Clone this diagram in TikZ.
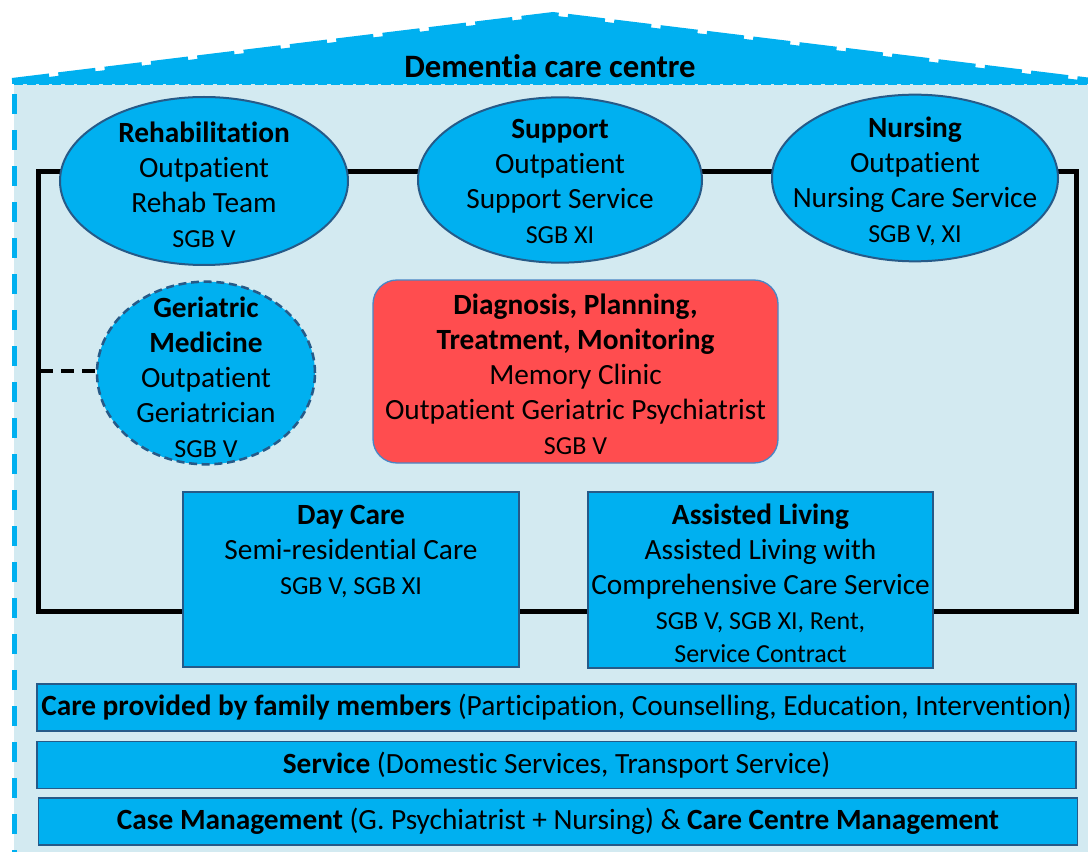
\documentclass[tikz,border=0pt]{standalone}
\usepackage{fontspec}
\setmainfont{Carlito}[Ligatures=NoCommon]
\usetikzlibrary{shapes.geometric}
\definecolor{cyanf}{HTML}{00B0F0}
\definecolor{bgblue}{HTML}{D3EAF1}
\definecolor{edgeblue}{HTML}{265A88}
\definecolor{redf}{HTML}{FF4D4F}
\definecolor{rededge}{HTML}{4A86C5}
\newcommand\smalltxt{\fontsize{19.5}{22}\selectfont}
\begin{document}
\begin{tikzpicture}[x=0.75pt,y=-0.75pt,
  oval/.style={ellipse, draw=edgeblue, line width=1.5pt, fill=cyanf, inner sep=0pt},
  dashoval/.style={oval, line width=1.9pt, dash pattern=on 6pt off 3.5pt},
  boxn/.style={rectangle, draw=edgeblue, line width=1.3pt, fill=cyanf, inner sep=0pt},
  redbox/.style={rectangle, rounded corners=18pt, draw=rededge, line width=1pt, fill=redf, inner sep=0pt},
  bar/.style={rectangle, draw=edgeblue, line width=1.1pt, fill=cyanf, inner sep=0pt,
     minimum width=779.25pt, minimum height=35.25pt, font=\fontsize{22}{26}\selectfont},
  txt/.style={align=center, inner sep=0pt, font=\fontsize{22}{26.25}\selectfont},
  titletxt/.style={inner sep=0pt, font=\fontsize{24.5}{28}\selectfont\bfseries},
  frame/.style={line width=3.75pt, line join=miter},
  link/.style={line width=2.6pt, dash pattern=on 9.75pt off 6pt}
]
\clip (0,0) rectangle (1088,852);
\fill[white] (0,0) rectangle (1088,852);
% house body
\fill[bgblue] (14,84) rectangle (1100,870);
\draw[cyanf, line width=3.75pt, dash pattern=on 15pt off 12pt] (14,870) -- (14,84);
% roof
\fill[cyanf] (12,81.5) -- (553,15.5) -- (1100,82.5) -- (1100,84) -- (12,84) -- cycle;
\draw[cyanf, line width=3pt, dash pattern=on 7pt off 2.5pt] (14,83.5) -- (1100,83.5);
\draw[cyanf, line width=3pt, dash pattern=on 28pt off 7pt] (12,80) -- (553,14) -- (1100,81);
\node[titletxt] (title) at (550,66) {Dementia care centre};
% frame connecting the services
\draw[frame] (38,172) rectangle (1076,611);
% services
\node[oval, minimum width=216pt, minimum height=126pt] (rehab) at (204,181) {};
\node[txt] (rehabT) at (204,185) {\textbf{Rehabilitation}\\Outpatient\\Rehab Team\\{\smalltxt SGB V}};
\node[oval, minimum width=213pt, minimum height=124pt] (supp) at (560,180) {};
\node[txt] (suppT) at (560,181) {\textbf{Support}\\Outpatient\\Support Service\\{\smalltxt SGB XI}};
\node[oval, minimum width=214.5pt, minimum height=125pt] (nurs) at (915,178) {};
\node[txt] (nursT) at (915,181) {\textbf{Nursing}\\Outpatient\\Nursing Care Service\\{\smalltxt SGB V, XI}};
\node[dashoval, minimum width=163.5pt, minimum height=137pt] (geri) at (206,373) {};
\node[txt] (geriT) at (206,377) {\textbf{Geriatric}\\\textbf{Medicine}\\Outpatient\\Geriatrician\\{\smalltxt SGB V}};
\coordinate (fl) at (40,371);
\draw[link] (fl) -- (fl -| geri.west);
\node[redbox, minimum width=303.75pt, minimum height=137.25pt] (diag) at (575.5,371.5) {};
\node[txt] (diagT) at (575.5,374.5) {\textbf{Diagnosis, Planning,}\\\textbf{Treatment, Monitoring}\\Memory Clinic\\Outpatient Geriatric Psychiatrist\\{\smalltxt SGB V}};
\node[boxn, minimum width=252pt, minimum height=131.25pt] (day) at (351,579.5) {};
\node[txt] (dayT) at (351,551.5) {\textbf{Day Care}\\Semi-residential Care\\{\smalltxt SGB V, SGB XI}};
\node[boxn, minimum width=258.75pt, minimum height=132pt] (asl) at (760.5,580) {};
\node[txt] (aslT) at (760.5,583) {\textbf{Assisted Living}\\Assisted Living with\\Comprehensive Care Service\\{\smalltxt SGB V, SGB XI, Rent,}\\[-1.5pt]{\smalltxt Service Contract}};
% bottom bars
\node[bar] (fam) at (556.5,707.5) {\textbf{Care provided by family members} (Participation, Counselling, Education, Intervention)};
\node[bar] (serv) at (556.5,765) {\textbf{Service} (Domestic Services, Transport Service)};
\node[bar] (case) at (558,821.5) {\textbf{Case Management} (G. Psychiatrist + Nursing) \& \textbf{Care Centre Management}};
\end{tikzpicture}
\end{document}
